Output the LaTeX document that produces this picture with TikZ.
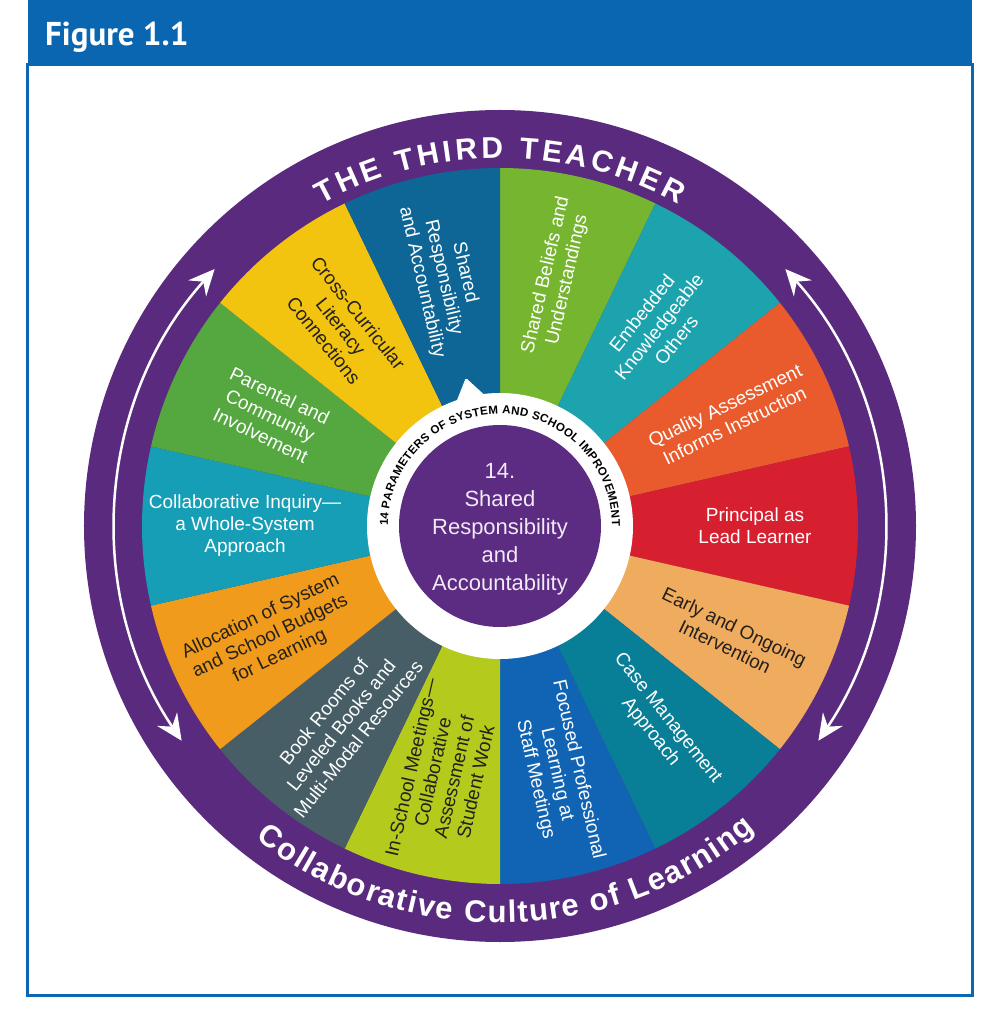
\documentclass[tikz,border=0pt]{standalone}
\usepackage{fontspec}
\setmainfont{Liberation Sans}
\newfontfamily\headfont{PT Sans}
\usetikzlibrary{decorations.text,arrows.meta}

\definecolor{headblue}{HTML}{0B66B1}
\definecolor{ringpurple}{HTML}{5A2A7F}
\definecolor{hubpurple}{HTML}{5C2B82}
\definecolor{hubtext}{HTML}{F1EAF5}
\definecolor{darktext}{HTML}{24201C}
\definecolor{wgreen}{HTML}{76B52F}
\definecolor{wteal}{HTML}{1CA3AE}
\definecolor{worange}{HTML}{E95B2D}
\definecolor{wred}{HTML}{D6202F}
\definecolor{wpeach}{HTML}{EFAB5E}
\definecolor{wpetrol}{HTML}{087F96}
\definecolor{wblue}{HTML}{1164B3}
\definecolor{wlime}{HTML}{B4CA1D}
\definecolor{wslate}{HTML}{475E66}
\definecolor{wamber}{HTML}{F09B1B}
\definecolor{wcyan}{HTML}{159EB5}
\definecolor{wleaf}{HTML}{55A73F}
\definecolor{wyellow}{HTML}{F2C30F}
\definecolor{wnavy}{HTML}{0D6695}

\newcommand{\wheelR}{358}
\newcommand{\toptextfont}{\bfseries\fontsize{30}{30}\selectfont}
\newcommand{\bottextfont}{\bfseries\fontsize{31}{31}\selectfont}
\newcommand{\hubringfont}{\bfseries\fontsize{11.6}{11.6}\selectfont}

\begin{document}
\begin{tikzpicture}[x=1pt, y=1pt,
  wedgetext/.style={align=center, inner sep=0pt, font=\fontsize{19}{22}\selectfont},
  ringarrow/.style={white, line width=2.5pt,
    {Stealth[length=26pt, width=24pt, inset=9pt]}-{Stealth[length=26pt, width=24pt, inset=9pt]}}]
  \useasboundingbox (-500,-498) rectangle (500,526);
  % frame and title bar
  \fill[headblue] (-472,461) rectangle (472,526);
  \draw[headblue, line width=3pt] (-472,461) rectangle (472,-469);
  \node[anchor=base west, inner sep=0pt, text=white,
    font=\headfont\bfseries\fontsize{33}{33}\selectfont] (title) at (-455,480) {Figure 1.1};
  % outer ring
  \fill[ringpurple] (0,0) circle[radius=416];
  % the 14 parameters
  \foreach \i/\wcol/\tcol/\txt [evaluate=\i as \a using {90-(\i-0.5)*360/14},
      evaluate=\i as \rot using {\i<8 ? 90-(\i-0.5)*360/14 : 270-(\i-0.5)*360/14}] in {
    1/wgreen/white/{Shared Beliefs and\\Understandings},
    2/wteal/white/{Embedded\\Knowledgeable\\Others},
    3/worange/white/{Quality Assessment\\Informs Instruction},
    4/wred/white/{Principal as\\Lead Learner},
    5/wpeach/darktext/{Early and Ongoing\\Intervention},
    6/wpetrol/white/{Case Management\\Approach},
    7/wblue/white/{Focused Professional\\Learning at\\Staff Meetings},
    8/wlime/darktext/{In-School Meetings—\\Collaborative\\Assessment of\\Student Work},
    9/wslate/white/{Book Rooms of\\Leveled Books and\\Multi-Modal Resources},
    10/wamber/darktext/{Allocation of System\\and School Budgets\\for Learning},
    11/wcyan/white/{Collaborative Inquiry—\\a Whole-System\\Approach},
    12/wleaf/white/{Parental and\\Community\\Involvement},
    13/wyellow/darktext/{Cross-Curricular\\Literacy\\Connections},
    14/wnavy/white/{Shared\\Responsibility\\and Accountability}} {
    \fill[\wcol] (0,0) -- ({\a+180/14}:\wheelR)
      arc[start angle={\a+180/14}, end angle={\a-180/14}, radius=\wheelR] -- cycle;
    \node[wedgetext, text=\tcol, rotate=\rot] (w\i) at (\a:255) {\txt};
  }
  % inner hub
  \fill[white] (0,0) circle[radius=133];
  \fill[white, rounded corners=1.5pt] (96:130) -- (103:152) -- (110:130) -- cycle;
  \fill[hubpurple] (0,0) circle[radius=101];
  \node[align=center, text=hubtext, font=\fontsize{22}{28}\selectfont] (hub) at (0,-3)
    {14.\\Shared\\Responsibility\\and\\Accountability};
  \path[decorate, decoration={text along path, text color=black, text align={fit to path},
      text={|\hubringfont|14 PARAMETERS OF SYSTEM AND SCHOOL IMPROVEMENT}}]
    (180:112) arc[start angle=180, end angle=0, radius=112];
  % ring captions
  \path[decorate, decoration={text along path, text color=white, text align={fit to path},
      text={|\toptextfont|THE THIRD TEACHER}}]
    (119:368) arc[start angle=119, end angle=61, radius=368];
  \path[decorate, decoration={text along path, text color=white, text align={fit to path},
      text={|\bottextfont|Collaborative Culture of Learning}}]
    (232:397) arc[start angle=232, end angle=310, radius=397];
  % cycle arrows
  \draw[ringarrow] (138:384) arc[start angle=138, end angle=214, radius=384];
  \draw[ringarrow] (42:384) arc[start angle=42, end angle=-34, radius=384];
\end{tikzpicture}
\end{document}
